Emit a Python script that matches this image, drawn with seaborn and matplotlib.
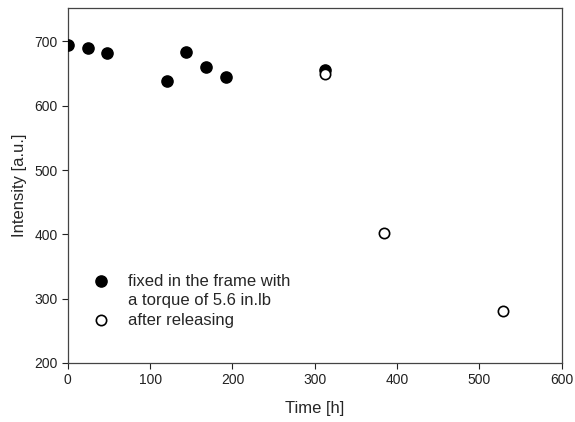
import matplotlib
matplotlib.use("Agg")
import matplotlib.pyplot as plt
from matplotlib.lines import Line2D
import seaborn as sns
import pandas as pd

fixed_time = [0, 24, 48, 120, 144, 168, 192, 312]
fixed_intensity = [695, 690, 682, 638, 683, 660, 645, 655]
released_time = [312, 384, 528]
released_intensity = [650, 402, 280]

x_ticks = [0, 100, 200, 300, 400, 500, 600]
y_ticks = [200, 300, 400, 500, 600, 700]

sns.set_style("ticks")
plt.rcParams['font.family'] = ['Liberation Sans', 'DejaVu Sans']

fig = plt.figure(figsize=(5.75, 4.22), dpi=100)
ax = fig.add_axes([0.118, 0.14, 0.859, 0.841])

df_fixed = pd.DataFrame({"Time": fixed_time, "Intensity": fixed_intensity})
df_rel = pd.DataFrame({"Time": released_time, "Intensity": released_intensity})

sns.scatterplot(data=df_fixed, x="Time", y="Intensity", ax=ax, color="black",
                edgecolor="black", s=65, linewidth=1.0,
                label="fixed in the frame with", zorder=3)
sns.scatterplot(data=df_rel, x="Time", y="Intensity", ax=ax, facecolor="white",
                edgecolor="black", s=55, linewidth=1.2,
                label="after releasing", zorder=4)

ax.set_xlim(0, 600)
ax.set_ylim(200, 752)
ax.set_xticks(x_ticks)
ax.set_yticks(y_ticks)
ax.tick_params(axis='both', direction='out', length=4, width=0.8, labelsize=10, colors='#222222')
for sp in ax.spines.values():
    sp.set_linewidth(0.9)
    sp.set_color('#444444')
ax.set_xlabel("Time [h]", fontsize=12, labelpad=10)
ax.set_ylabel("Intensity [a.u.]", fontsize=12, labelpad=5)

handles, labels = ax.get_legend_handles_labels()
blank = Line2D([], [], linestyle='none', marker=None)
handles = [handles[0], blank, handles[1]]
labels = [labels[0], "a torque of 5.6 in.lb", labels[1]]
leg = ax.legend(handles, labels, loc='upper left', bbox_to_anchor=(0.02, 0.27), frameon=False,
                fontsize=12, handletextpad=0.6, labelspacing=0.27, borderaxespad=0)

fig.savefig("out.png", dpi=100)
